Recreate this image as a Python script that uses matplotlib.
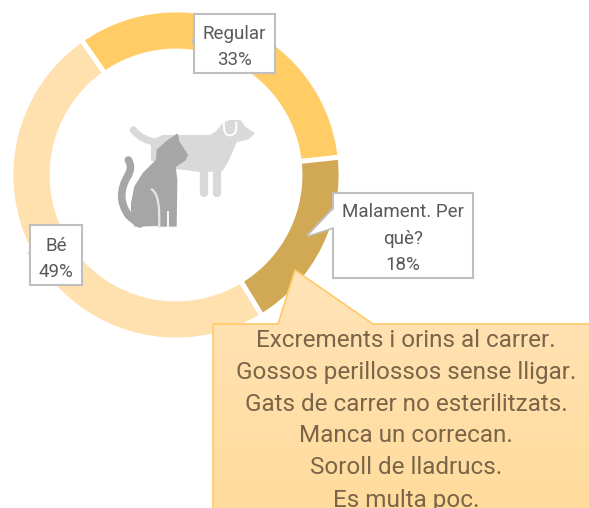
import numpy as np
import matplotlib
matplotlib.use('Agg')
import matplotlib.pyplot as plt
from matplotlib.colors import LinearSegmentedColormap
from matplotlib.patches import Polygon, PathPatch, Rectangle
from matplotlib.path import Path

plt.rcParams['font.family'] = ['Roboto', 'DejaVu Sans']

# data
categories = ['Regular', 'Malament. Per\nquè?', 'Bé']
values = [33, 18, 49]
colors = ['#FFCC66', '#D1A954', '#FFE0AF']
motius = ['Excrements i orins al carrer.', 'Gossos perillossos sense lligar.',
          'Gats de carrer no esterilitzats.', 'Manca un correcan.',
          'Soroll de lladrucs.', 'Es multa poc.']

W, H = 589, 508
fig = plt.figure(figsize=(W / 100, H / 100), dpi=100)
ax = fig.add_axes([0, 0, 1, 1])


def Y(y):
    return H - y


# donut, clockwise from about -35 deg of top
ax.pie(values, colors=colors, startangle=90 + 35, counterclock=False,
       center=(176, Y(175)), radius=165, frame=True,
       wedgeprops=dict(width=41, edgecolor='white', linewidth=3.5))
ax.set_xlim(0, W)
ax.set_ylim(0, H)
ax.set_aspect('auto')
ax.axis('off')


def z(pts):
    # icon outline was read on a crop at 3x starting at (100,100)
    return [(100 + a / 3, Y(100 + b / 3)) for a, b in pts]


def smooth_line(pts, color, lw, zorder=4):
    p = z(pts)
    codes = [Path.MOVETO] + [Path.CURVE3] * (len(p) - 1)
    ax.add_patch(PathPatch(Path(p, codes), fill=False, edgecolor=color, lw=lw,
                           capstyle='round', zorder=zorder))


# dog
grey1 = '#D9D9D9'
smooth_line([(100, 90), (125, 122), (175, 128)], grey1, 5.2)
ax.add_patch(Polygon(z([(155, 135), (170, 115), (190, 107), (330, 107), (350, 95), (372, 68), (390, 62),
                        (420, 62), (435, 82), (462, 100), (445, 116), (408, 125), (398, 150), (380, 190),
                        (365, 212), (300, 214), (230, 205), (155, 180)]),
                     fc=grey1, ec=grey1, lw=1, joinstyle='round', zorder=4))
for xleg in (312, 352):
    ax.plot(*zip(*z([(xleg, 200), (xleg, 280)])), color=grey1, lw=6, solid_capstyle='round', zorder=4)
smooth_line([(372, 66), (368, 108), (392, 106)], 'white', 1.4)
smooth_line([(392, 106), (414, 102), (408, 68)], 'white', 1.4)

# cat
grey2 = '#A6A6A6'
smooth_line([(85, 180), (98, 200), (85, 225)], grey2, 5.5)
smooth_line([(85, 225), (45, 290), (85, 345)], grey2, 5.5)
smooth_line([(85, 345), (100, 362), (120, 372)], grey2, 5.5)
ax.add_patch(Polygon(z([(232, 103), (236, 125), (262, 165), (255, 180), (225, 200), (230, 240), (228, 378),
                        (180, 378), (168, 376), (105, 378), (95, 340), (95, 310), (105, 260),
                        (130, 220), (170, 180), (172, 150), (200, 125)]),
                     fc=grey2, ec=grey2, lw=1, joinstyle='round', zorder=5))
ax.plot(*zip(*z([(203, 335), (203, 385)])), color='white', lw=1.3, zorder=5)
smooth_line([(155, 268), (183, 285), (177, 385)], '#E6E6E6', 1.6, zorder=5)
ax.add_patch(Rectangle((100 + 170 / 3, Y(100 + 395 / 3)), 60 / 3, 12 / 3, fc='white', ec='none', zorder=5))

# gradient callout with the reasons
tip = [(213, Y(324)), (278, Y(324)), (295, Y(270)), (373, Y(324)), (595, Y(324)), (595, -5), (213, -5)]
ax.add_patch(Polygon(tip, fc='none', ec='#FFC966', lw=1.2, zorder=7))
grad = np.linspace(0, 1, 256).reshape(-1, 1)
im = ax.imshow(grad, extent=(213, 589, 0, Y(270)), aspect='auto', zorder=6,
               cmap=LinearSegmentedColormap.from_list('g', ['#FFDB9C', '#FFE4B8']),
               origin='lower')
im.set_clip_path(Polygon(tip, transform=ax.transData))
ax.set_xlim(0, W)
ax.set_ylim(0, H)

# last line runs off the bottom edge in the original too
line_y = [347, 379, 411, 442, 474, 507]
for t, yy in zip(motius, line_y):
    ax.text(406, Y(yy), t, ha='center', va='baseline', fontsize=17.5, color='#7A6548', zorder=8)

# data callouts
box_ec = '#BFBFBF'
txt = '#595959'
label_boxes = [(194, 14, 275, 73), (333, 193, 473, 278), (30, 225, 82, 285)]
label_x = [234.5, 403, 56]
label_y = [[39, 65], [217, 244, 270], [251, 277]]
ax.add_patch(Polygon([(333, Y(208)), (307, Y(236)), (333, Y(228))], fc='white', ec=box_ec, lw=1.5, zorder=5))
ax.add_patch(Polygon([(194, Y(38)), (192, Y(40)), (194, Y(44))], fc=box_ec, ec=box_ec, lw=1, zorder=5))
ax.add_patch(Polygon([(30, Y(250)), (29, Y(253)), (30, Y(256))], fc=box_ec, ec=box_ec, lw=1, zorder=5))
for (x0, y0, x1, y1), c, v, cx, ys in zip(label_boxes, categories, values, label_x, label_y):
    ax.add_patch(Rectangle((x0, Y(y1)), x1 - x0, y1 - y0, fc='white', ec=box_ec, lw=1.5, zorder=5))
    for t, yy in zip(c.split('\n') + [f'{v}%'], ys):
        ax.text(cx, Y(yy), t, ha='center', va='baseline', fontsize=13.5, color=txt, zorder=6)
ax.add_patch(Polygon([(334, Y(209)), (309, Y(235)), (334, Y(227))], fc='white', ec='none', zorder=6))

fig.savefig('out.png', dpi=100)
